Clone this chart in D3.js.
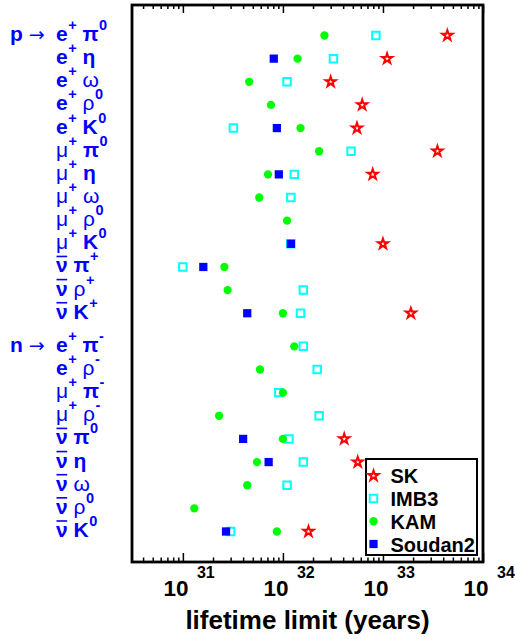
<!DOCTYPE html>
<html><head><meta charset="utf-8">
<script src="https://cdn.jsdelivr.net/npm/d3@7"></script>
<style>body{margin:0;background:#fff}</style>
</head><body>
<svg id="c" width="515" height="639"></svg>
<script>
// ---------- data ----------
const protonModes = ["e^+ π^0","e^+ η","e^+ ω","e^+ ρ^0","e^+ K^0","μ^+ π^0","μ^+ η","μ^+ ω","μ^+ ρ^0","μ^+ K^0","ν\u0304 π^+","ν\u0304 ρ^+","ν\u0304 K^+"];
const neutronModes = ["e^+ π^-","e^+ ρ^-","μ^+ π^-","μ^+ ρ^-","ν\u0304 π^0","ν\u0304 η","ν\u0304 ω","ν\u0304 ρ^0","ν\u0304 K^0"];
const nucleons = ["p","n"];
// lifetime limits (years), order = protonModes then neutronModes; null = no limit shown
const SK      = [4.4e33,1.1e33,3.0e32,6.2e32,5.5e32,3.5e33,7.9e32,null,null,1.0e33,null,null,1.9e33,
                 null,null,null,null,4.1e32,5.6e32,null,null,1.8e32];
const IMB3    = [8.5e32,3.2e32,1.1e32,null,3.2e31,4.8e32,1.3e32,1.2e32,null,1.2e32,1.0e31,1.6e32,1.5e32,
                 1.6e32,2.2e32,9.1e31,2.3e32,1.15e32,1.6e32,1.1e32,null,3.0e31];
const KAM     = [2.6e32,1.4e32,4.6e31,7.6e31,1.5e32,2.3e32,7.1e31,5.8e31,1.1e32,null,2.6e31,2.8e31,1.0e32,
                 1.3e32,5.9e31,1.0e32,2.3e31,1.0e32,5.5e31,4.4e31,1.3e31,8.7e31];
const Soudan2 = [null,8.1e31,null,null,8.7e31,null,9.1e31,null,null,1.2e32,1.6e31,null,4.4e31,
                 null,null,null,null,4.0e31,7.2e31,null,null,2.7e31];
const seriesNames = ["SK","IMB3","KAM","Soudan2"];
const majorTickExps = [31,32,33,34];
const axisTitle = "lifetime limit (years)";

// ---------- layout ----------
const svg = d3.select("#c");
const FONT = "'Liberation Sans', Arial, Helvetica, sans-serif";
const BLUE = "#0000ff";
const pL = 132, pR = 483, pT = 5, pB = 562;
const x = d3.scaleLog().domain([3.1e30, 1e34]).range([pL, pR]);
const nP = protonModes.length, gap = 0.43;
const modes = protonModes.concat(neutronModes);
const slot = i => i + (i >= nP ? gap : 0);
const y = d3.scaleLinear().domain([0, slot(modes.length - 1)]).range([35.5, 531.5]);

// minor ticks
const minor = [];
for (let e = 30; e < 34; e++) for (let m = 2; m <= 9; m++) {
  const v = m * Math.pow(10, e);
  if (v > x.domain()[0] && v < x.domain()[1]) minor.push(v);
}
const major = majorTickExps.map(e => Math.pow(10, e));

function tickAxis(gen, ty, vals, len) {
  const g = svg.append("g").attr("transform", `translate(0,${ty})`)
    .call(gen(x).tickValues(vals).tickSizeInner(len).tickSizeOuter(0).tickFormat(""));
  g.select(".domain").remove();
  g.selectAll(".tick line").attr("stroke", "#000").attr("stroke-width", 1.5);
  return g;
}
tickAxis(d3.axisBottom, pB, minor, -4.5);
const gMajor = tickAxis(d3.axisBottom, pB, major, -9);
tickAxis(d3.axisTop, pT, minor, -4);
tickAxis(d3.axisTop, pT, major, -8);

// major tick labels 10^n
gMajor.selectAll(".tick").each(function (d) {
  const t = d3.select(this).append("text")
    .attr("x", -20).attr("y", 596 - pB).attr("text-anchor", "start")
    .attr("fill", "#000").attr("font-family", FONT).attr("font-weight", "bold");
  t.append("tspan").attr("font-size", 22.5).text("10");
  t.append("tspan").attr("font-size", 16).attr("dx", 8.5).attr("dy", -18)
    .text(Math.round(Math.log10(d)));
});

// frame
svg.append("rect").attr("x", pL).attr("y", pT).attr("width", pR - pL).attr("height", pB - pT)
  .attr("fill", "none").attr("stroke", "#000").attr("stroke-width", 2.8);

// axis title
svg.append("text").attr("x", (pL + pR) / 2).attr("y", 629).attr("text-anchor", "middle")
  .attr("font-family", FONT).attr("font-weight", "bold").attr("font-size", 26).attr("fill", "#000")
  .text(axisTitle);

// ---------- row labels ----------
const boldGlyphs = new Set(["e", "ν", "π", "η", "K"]);
function parse(tok) {
  const [b, c] = tok.split("^");
  return { base: b.replace("\u0304", ""), bar: b.includes("\u0304"), charge: c || "" };
}
const gl = svg.append("g").attr("font-family", FONT).attr("fill", BLUE);
modes.forEach((m, i) => {
  const yy = y(slot(i)) + 5.5;
  const parts = m.split(" ").map(parse);
  const t = gl.append("text").attr("x", 56).attr("y", yy).attr("font-size", 21);
  let shifted = false;
  parts.forEach((p, k) => {
    if (k) {
      t.append("tspan").attr("font-weight", "bold").attr("dy", shifted ? 11 : 0).text("\u00a0");
      shifted = false;
    }
    t.append("tspan").attr("font-weight", boldGlyphs.has(p.base) ? "bold" : "normal").text(p.base);
    if (p.charge) {
      t.append("tspan").attr("font-weight", "bold").attr("font-size", 14.5).attr("dy", -11)
        .attr("dx", 0.5).text(p.charge);
      shifted = true;
    }
  });
  if (parts[0].bar) {
    const r = t.node().getExtentOfChar(0);
    gl.append("line").attr("x1", r.x + 0.5).attr("x2", r.x + r.width - 0.5)
      .attr("y1", yy - 16).attr("y2", yy - 16).attr("stroke", BLUE).attr("stroke-width", 1.6);
  }
});
// nucleon prefixes
[0, nP].forEach((idx, k) => {
  const t = gl.append("text").attr("x", 10).attr("y", y(slot(idx)) + 5.5).attr("font-size", 21);
  t.append("tspan").attr("font-weight", "bold").text(nucleons[k]);
  t.append("tspan").attr("font-weight", "normal").attr("font-family", "'DejaVu Sans', sans-serif")
    .attr("font-size", 19).attr("dx", 6).text("\u2192");
});

// ---------- markers ----------
const styles = {
  SK:      { type: d3.symbolStar,   size: 32, fill: "#fff",    stroke: "#ff0000", sw: 2 },
  IMB3:    { type: d3.symbolSquare, size: 56, fill: "none",    stroke: "#00ffff", sw: 2 },
  KAM:     { type: d3.symbolCircle, size: 54, fill: "#00ff00", stroke: "none",    sw: 0 },
  Soudan2: { type: d3.symbolSquare, size: 68, fill: "#0000ff", stroke: "none",    sw: 0 }
};
const seriesData = { SK, IMB3, KAM, Soudan2 };
const drawOrder = ["IMB3", "KAM", "Soudan2", "SK"];
drawOrder.forEach(name => {
  const s = styles[name];
  const pts = seriesData[name].map((v, i) => ({ v, i })).filter(d => d.v != null);
  svg.append("g").selectAll("path").data(pts).join("path")
    .attr("transform", d => `translate(${x(d.v)},${y(slot(d.i))})`)
    .attr("d", d3.symbol(s.type, s.size)())
    .attr("fill", s.fill).attr("stroke", s.stroke).attr("stroke-width", s.sw);
});

// ---------- legend ----------
const lg = svg.append("g");
lg.append("rect").attr("x", 366).attr("y", 459).attr("width", 111).attr("height", 96)
  .attr("fill", "#fff").attr("stroke", "#000").attr("stroke-width", 2);
const ly = d3.scalePoint().domain(seriesNames).range([475.7, 544]);
seriesNames.forEach(name => {
  const s = styles[name];
  lg.append("path").attr("transform", `translate(373.5,${ly(name)})`)
    .attr("d", d3.symbol(s.type, s.size)())
    .attr("fill", s.fill).attr("stroke", s.stroke).attr("stroke-width", s.sw);
  lg.append("text").attr("x", 390.5).attr("y", ly(name) + 7.5)
    .attr("font-family", FONT).attr("font-weight", "bold").attr("font-size", 20).attr("fill", "#000")
    .text(name);
});
</script>
</body></html>
